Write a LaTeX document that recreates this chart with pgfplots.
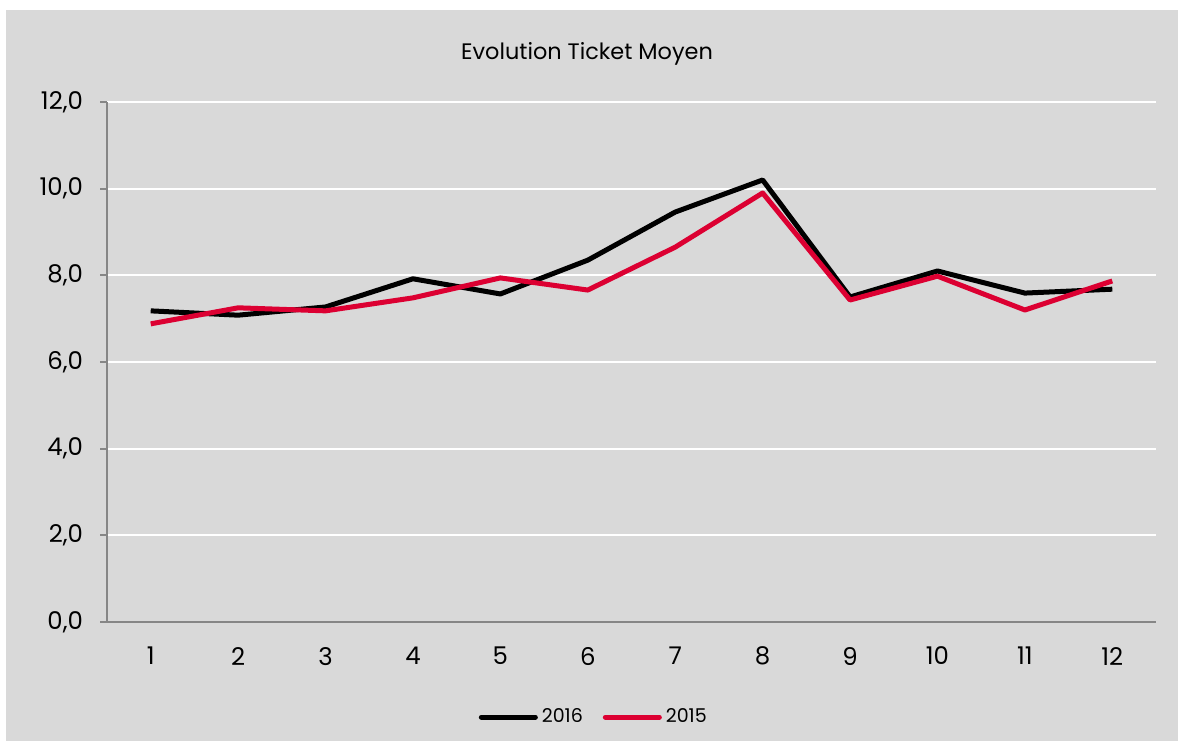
\documentclass[border=0pt]{standalone}
\usepackage{pgfplots}
\pgfplotsset{compat=1.18}
\usepackage{fontspec}
\setmainfont{Poppins}
\definecolor{bg}{HTML}{D9D9D9}
\definecolor{axgray}{HTML}{868686}
\definecolor{redline}{HTML}{DC0032}
\begin{document}
\begin{tikzpicture}[x=1pt,y=1pt]
\fill[white] (0,0) rectangle (591.5,373.5);
\fill[bg] (3,3) rectangle (589,368.5);
\node[font=\fontsize{11.2}{13}\selectfont] at (293.5,346.5) {Evolution Ticket Moyen};
\begin{axis}[
  at={(53.5pt,62.5pt)}, anchor=south west,
  scale only axis, width=524.5pt, height=260pt,
  xmin=0.5, xmax=12.5, ymin=0, ymax=12,
  xtick={1,...,12}, ytick={0,2,...,12},
  axis line style={axgray, line width=0.9pt},
  axis x line*=bottom, axis y line*=left,
  x axis line style={-}, y axis line style={-},
  xtick style={draw=none},
  ytick style={axgray, line width=0.9pt},
  tick align=outside, major tick length=3.5pt,
  ymajorgrids, grid style={white, line width=0.9pt},
  tick label style={font=\fontsize{12.2}{14}\selectfont},
  xticklabel style={yshift=-5.5pt},
  yticklabel style={xshift=-5pt},
  yticklabel={\pgfmathprintnumber[fixed,fixed zerofill,precision=1,use comma]{\tick}},
  /pgf/number format/assume math mode=true,
  legend columns=2,
  legend style={at={(0.465,-0.183)}, anchor=center, draw=none, fill=none,
    font=\fontsize{9.5}{11}\selectfont, /tikz/every even column/.append style={column sep=8pt}},
  legend image code/.code={\draw[#1, line cap=round] (0pt,0pt) -- (27pt,0pt);},
  clip=false,
]
\addplot[black, line width=2.5pt, line join=round] coordinates {
(1,7.18) (2,7.08) (3,7.27) (4,7.92) (5,7.57) (6,8.35) (7,9.46) (8,10.2) (9,7.5) (10,8.1) (11,7.59) (12,7.68)};
\addlegendentry{2016}
\addplot[redline, line width=2.5pt, line join=round] coordinates {
(1,6.88) (2,7.25) (3,7.18) (4,7.48) (5,7.94) (6,7.66) (7,8.65) (8,9.9) (9,7.43) (10,7.98) (11,7.2) (12,7.87)};
\addlegendentry{2015}
\end{axis}
\end{tikzpicture}
\end{document}
